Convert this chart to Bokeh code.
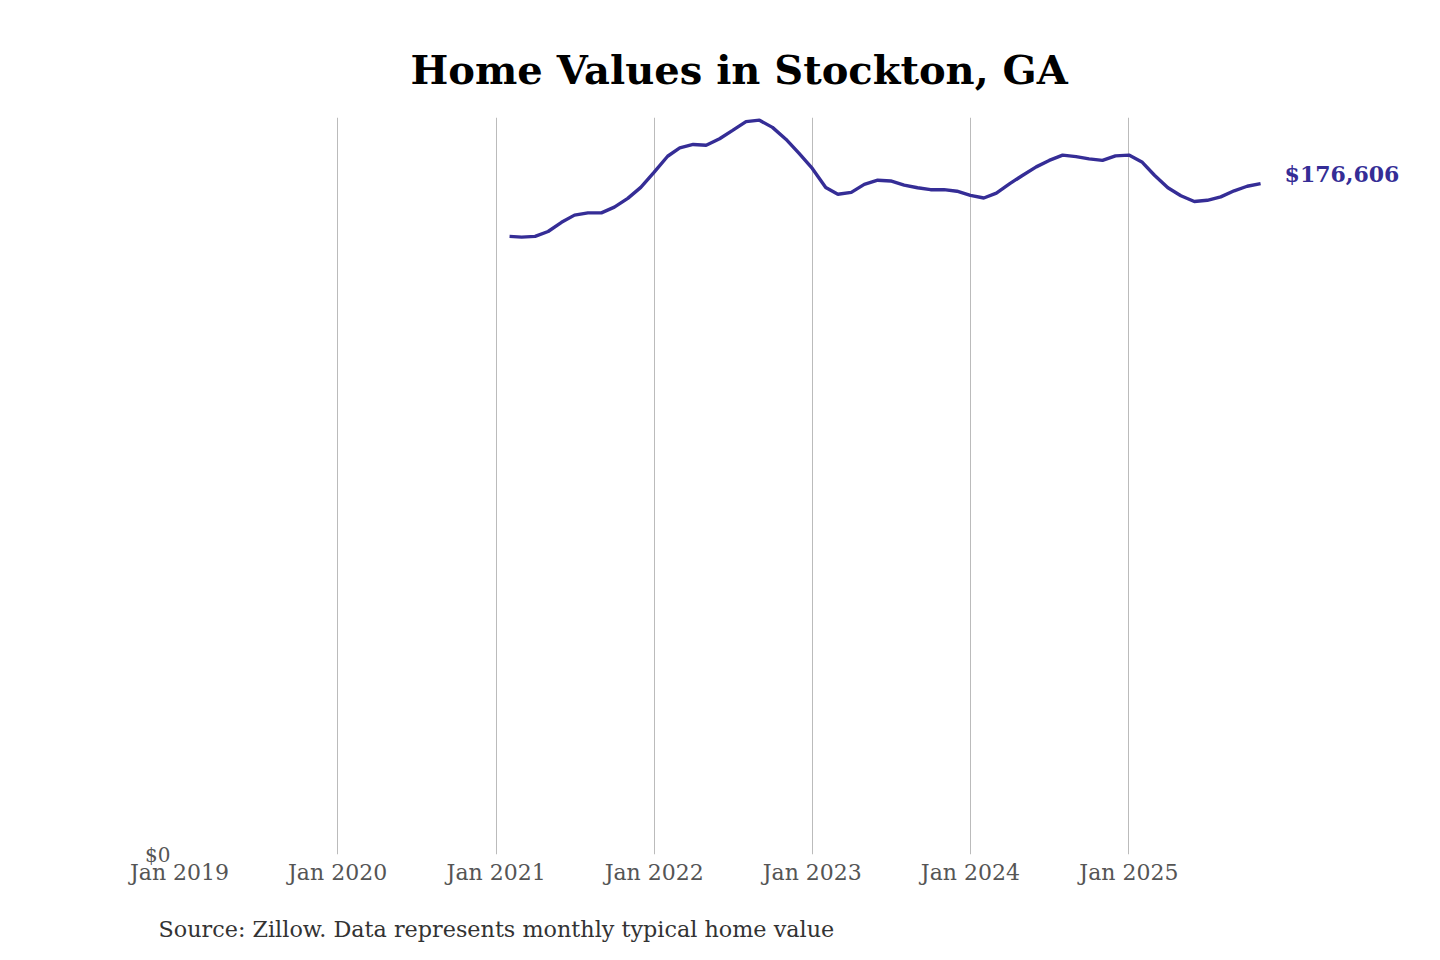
from datetime import datetime, timedelta
import pandas as pd
from bokeh.plotting import figure
from bokeh.models import (Range1d, FixedTicker, DatetimeTickFormatter,
                          NumeralTickFormatter, Title, ColumnDataSource)
from bokeh.core.properties import value
from bokeh.embed import file_html
from bokeh.resources import INLINE

# ---- data ----
start_month = "2021-01"
n_months = 58
home_values = [
    162700, 162500, 162700, 164000, 166400, 168300, 168900, 168900, 170400, 172700, 175600, 179600,
    183800, 186000, 186900, 186700, 188400, 190600, 192900, 193300, 191400, 188300, 184600, 180600,
    175600, 173800, 174300, 176400, 177500, 177300, 176200, 175500, 175000, 175000, 174600, 173500,
    172800, 174100, 176600, 178800, 181000, 182700, 184100, 183700, 183100, 182700, 183900, 184100,
    182200, 178800, 175500, 173400, 171900, 172200, 173100, 174700, 175900, 176606,
]
tick_years = [2019, 2020, 2021, 2022, 2023, 2024, 2025]
grid_years = [2020, 2021, 2022, 2023, 2024, 2025]
last_label = "$176,606"
title_text = "Home Values in Stockton, GA"
source_text = "Source: Zillow. Data represents monthly typical home value"

dates = pd.period_range(start_month, periods=n_months, freq="M").to_timestamp(how="end")
src = ColumnDataSource(dict(date=dates, val=home_values))

LINE = "#352d96"
SERIF = "DejaVu Serif"

def ms(d):
    return (d - datetime(1970, 1, 1)).total_seconds() * 1000.0

FRAME_W = 1235
FRAME_H = 737
PX_PER_YEAR = 158.2
x_start = datetime(2019, 1, 1)
x_end = x_start + timedelta(days=FRAME_W * 365.25 / PX_PER_YEAR)

p = figure(frame_width=FRAME_W, frame_height=FRAME_H,
           output_backend="svg", toolbar_location=None,
           x_axis_type="datetime",
           x_range=Range1d(x_start, x_end), y_range=Range1d(0, 194000),
           min_border_left=179, min_border_right=10, min_border_top=117,
           min_border_bottom=96)
p.outline_line_color = None
p.background_fill_color = "white"

p.title.text = title_text
p.title.text_font = SERIF
p.title.text_font_size = "40px"
p.title.text_font_style = "bold"
p.title.text_color = "#000000"
p.title.align = "left"
p.title.offset = 231
p.title.standoff = 49

p.line("date", "val", source=src, line_color=LINE, line_width=3.4)
p.text(x=[dates[-1]], y=[home_values[-1]], text=[last_label],
       text_font=value(SERIF), text_font_style="bold", text_font_size="22px",
       text_color=LINE, text_baseline="middle", text_align="left",
       x_offset=24, y_offset=-10)

xa = p.xaxis[0]
xa.ticker = FixedTicker(ticks=[ms(datetime(y, 1, 1)) for y in tick_years])
xa.formatter = DatetimeTickFormatter(years="Jan %Y", months="Jan %Y", days="Jan %Y")
xa.axis_line_color = None
xa.major_tick_line_color = None
xa.minor_tick_line_color = None
xa.major_tick_out = 0
xa.major_tick_in = 0
xa.major_label_standoff = 5
xa.major_label_text_font = SERIF
xa.major_label_text_font_size = "22px"
xa.major_label_text_color = "#555555"

ya = p.yaxis[0]
ya.ticker = FixedTicker(ticks=[0])
ya.formatter = NumeralTickFormatter(format="$0,0")
ya.axis_line_color = None
ya.major_tick_line_color = None
ya.minor_tick_line_color = None
ya.major_tick_out = 0
ya.major_tick_in = 0
ya.major_label_standoff = 9
ya.major_label_text_font = SERIF
ya.major_label_text_font_size = "20px"
ya.major_label_text_color = "#555555"

p.xgrid.ticker = FixedTicker(ticks=[ms(datetime(y, 1, 1)) for y in grid_years])
p.xgrid.grid_line_color = "#bbbbbb"
p.xgrid.grid_line_width = 1
p.ygrid.grid_line_color = None

src_title = Title(text=source_text, align="left", offset=-21, standoff=52,
                  text_font=SERIF, text_font_size="22.3px", text_font_style="normal",
                  text_color="#333333")
p.add_layout(src_title, "below")

open("out.html", "w").write(file_html(p, INLINE))
